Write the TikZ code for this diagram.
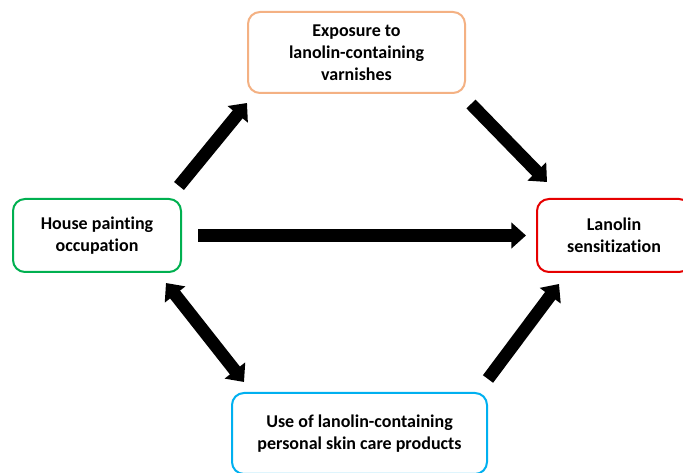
\documentclass[tikz,border=0pt]{standalone}
\usepackage{fontspec}
\setmainfont{Carlito}[Ligatures=CommonOff]
\usetikzlibrary{arrows.meta}
\definecolor{boxorange}{RGB}{244,177,131}
\definecolor{boxgreen}{RGB}{0,176,80}
\definecolor{boxred}{RGB}{230,0,0}
\definecolor{boxcyan}{RGB}{0,176,240}
\begin{document}
\begin{tikzpicture}[x=0.75pt,y=-0.75pt,
  box/.style={draw, line width=1.5pt, rounded corners=9pt, align=center,
    font=\bfseries\fontsize{13.5}{16.5}\selectfont, inner sep=0pt},
  fat/.style={line width=9.5pt, -{Triangle[width=19pt,length=11pt]}},
  fatboth/.style={line width=9.5pt, {Triangle[width=19pt,length=11pt]}-{Triangle[width=19pt,length=11pt]}}]
\useasboundingbox (0,0) rectangle (683,473);
\clip (0,0) rectangle (683,473);
\fill[white] (0,0) rectangle (683,473);
\node[box, draw=boxorange, minimum width=162.75pt, minimum height=60.75pt] (top) at (356.5,52.5)
  {Exposure to\\lanolin-containing\\varnishes};
\node[box, draw=boxgreen, minimum width=126pt, minimum height=54.75pt] (left) at (97,235.5)
  {House painting\\occupation};
\node[box, draw=boxred, minimum width=115.5pt, minimum height=54.75pt] (right) at (614,235.5)
  {Lanolin\\sensitization};
\node[box, draw=boxcyan, minimum width=191.25pt, minimum height=60.75pt] (bottom) at (359.5,433.5)
  {Use of lanolin-containing\\personal skin care products};
\draw[fat] ([shift={(-3,-12)}]left.north east) -- ([shift={(0,9)}]top.south west);
\draw[fat] ([shift={(5,10)}]top.south east) -- ([shift={(11,-16)}]right.north west);
\draw[fat] ([shift={(16,0)}]left.east) -- ([shift={(-10,0)}]right.west);
\draw[fatboth] ([shift={(-16,10)}]left.south east) -- ([shift={(13,-10)}]bottom.north west);
\draw[fat] ([shift={(0,-13)}]bottom.north east) -- ([shift={(23,11)}]right.south west);
\end{tikzpicture}
\end{document}
